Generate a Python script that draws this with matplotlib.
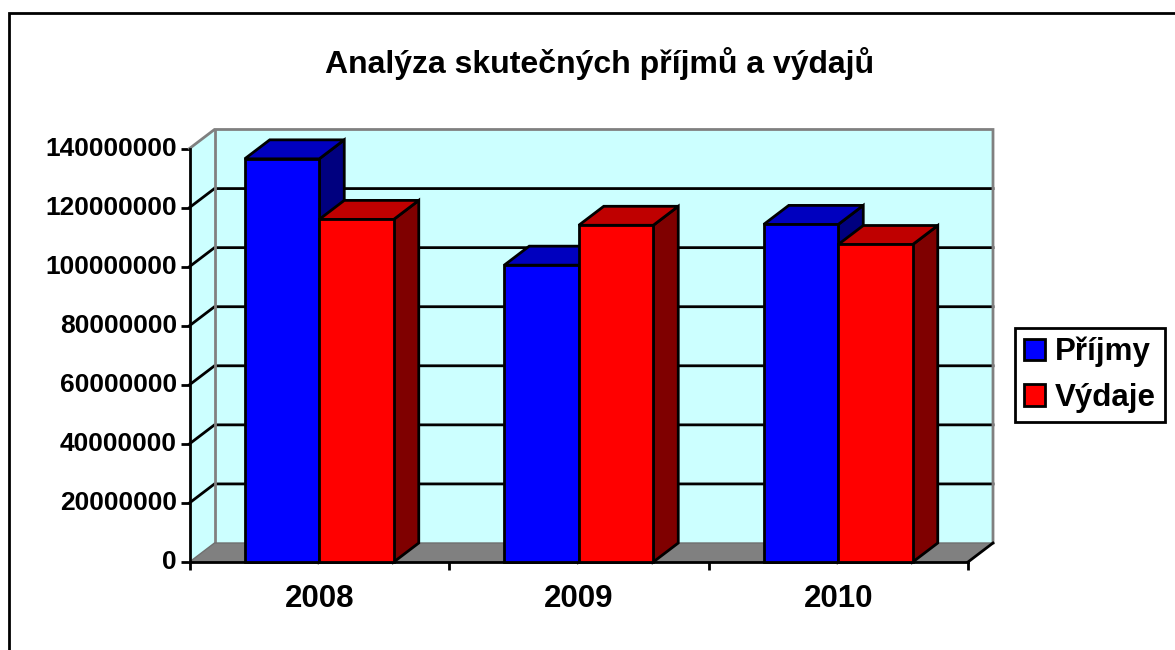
import matplotlib
matplotlib.use('Agg')
import matplotlib.pyplot as plt
from matplotlib.lines import Line2D
from matplotlib.patches import Patch, Polygon

plt.rcParams['font.family'] = ['Liberation Sans', 'DejaVu Sans']
plt.rcParams['font.weight'] = 'bold'

years = ['2008', '2009', '2010']
prijmy = [136500000, 100500000, 114300000]
vydaje = [116000000, 114000000, 107500000]
y_ticks = [0, 20000000, 40000000, 60000000, 80000000, 100000000, 120000000, 140000000]

W, H = 1175, 650
# front plane of the 3D box, in pixels
left, right, top, bottom = 189.5, 968, 148.5, 562
depth_px_x, depth_px_y = 25, 19
LW = 2.0

fig = plt.figure(figsize=(W / 100, H / 100), dpi=100, facecolor='white')
ax = fig.add_axes([left / W, 1 - bottom / H, (right - left) / W, (bottom - top) / H])
ax.set_xlim(-0.5, 2.5)
ax.set_ylim(0, 140000000)
ax.patch.set_alpha(0)

dx = depth_px_x / (right - left) * 3
dy = depth_px_y / (bottom - top) * 140000000
x0, x1 = -0.5, 2.5
y1 = 140000000


def poly(pts, fc, ec='none', lw=0, z=1):
    ax.add_patch(Polygon(pts, closed=True, facecolor=fc, edgecolor=ec, linewidth=lw,
                         zorder=z, clip_on=False, joinstyle='miter'))


# walls and floor
poly([(x0 + dx, dy), (x1 + dx, dy), (x1 + dx, y1 + dy), (x0 + dx, y1 + dy)], '#CCFFFF', z=1)
poly([(x0, 0), (x0 + dx, dy), (x0 + dx, y1 + dy), (x0, y1)], '#CCFFFF', z=1)
poly([(x0, 0), (x1, 0), (x1 + dx, dy), (x0 + dx, dy)], '#808080', z=1)

# gridlines run along the side wall and the back wall
for t in y_ticks[1:-1]:
    ax.plot([x0, x0 + dx, x1 + dx], [t, t + dy, t + dy], color='black', lw=LW, zorder=2,
            clip_on=False, solid_joinstyle='miter')

ax.plot([x0, x0 + dx, x1 + dx, x1 + dx], [y1, y1 + dy, y1 + dy, dy], color='#808080', lw=LW,
        zorder=2, clip_on=False, solid_joinstyle='miter')
ax.plot([x0 + dx, x0 + dx], [dy, y1 + dy], color='#808080', lw=LW, zorder=2, clip_on=False)
ax.plot([x0, x0 + dx, x1 + dx], [0, dy, dy], color='#707070', lw=1, zorder=2, clip_on=False)
ax.plot([x1, x1 + dx], [0, dy], color='black', lw=LW, zorder=2, clip_on=False)

bar_w = 74.5 / (right - left) * 3


def bar3d(xl, val, front, top_c, side_c, z):
    xr = xl + bar_w
    poly([(xr, 0), (xr + dx, dy), (xr + dx, val + dy), (xr, val)], side_c, 'black', LW, z)
    poly([(xl, val), (xr, val), (xr + dx, val + dy), (xl + dx, val + dy)], top_c, 'black', LW, z)
    ax.bar(xl, val, width=bar_w, align='edge', color=front, edgecolor='black', linewidth=LW,
           zorder=z, clip_on=False)


for i in range(len(years)):
    bar3d(i - bar_w, prijmy[i], '#0000FF', '#0000BF', '#00007F', 3 + 2 * i)
    bar3d(i, vydaje[i], '#FF0000', '#BF0000', '#7F0000', 4 + 2 * i)

# axes
for s in ['top', 'right']:
    ax.spines[s].set_visible(False)
for s in ['left', 'bottom']:
    ax.spines[s].set_linewidth(LW)
    ax.spines[s].set_zorder(2.5)

ax.set_yticks(y_ticks)
ax.set_yticklabels([str(t) for t in y_ticks], fontsize=19, fontweight='bold', va='center')
ax.tick_params(axis='y', length=6.5, width=LW, pad=2.5)
for lab in ax.get_yticklabels():
    lab.set_y(lab.get_position()[1])
ax.set_xticks([0, 1, 2])
ax.set_xticklabels(years, fontsize=22.5, fontweight='bold')
ax.set_xticks([-0.5, 0.5, 1.5, 2.5], minor=True)
ax.tick_params(axis='x', which='major', length=0, pad=15.5)
ax.tick_params(axis='x', which='minor', length=6, width=LW)

fig.text(600 / W, 1 - 64 / H, 'Analýza skutečných příjmů a výdajů', fontsize=23,
         fontweight='bold', ha='center', va='center')

# legend
handles = [Patch(facecolor='#0000FF', edgecolor='black', linewidth=LW, label='Příjmy'),
           Patch(facecolor='#FF0000', edgecolor='black', linewidth=LW, label='Výdaje')]
leg = fig.legend(handles=handles, loc='center left', bbox_to_anchor=(1015 / W, 1 - 375 / H),
                 borderaxespad=0, fancybox=False, edgecolor='black', framealpha=1,
                 handlelength=0.67, handleheight=0.67, handletextpad=0.3, labelspacing=0.5,
                 borderpad=0.3, prop={'weight': 'bold', 'size': 22.5})
leg.get_frame().set_linewidth(LW)

# chart area border, open at the right and bottom
fig.add_artist(Line2D([9 / W, 9 / W, 1], [0, 1 - 13 / H, 1 - 13 / H], transform=fig.transFigure,
                      color='black', linewidth=LW, solid_joinstyle='miter'))

fig.savefig('out.png', dpi=100)
